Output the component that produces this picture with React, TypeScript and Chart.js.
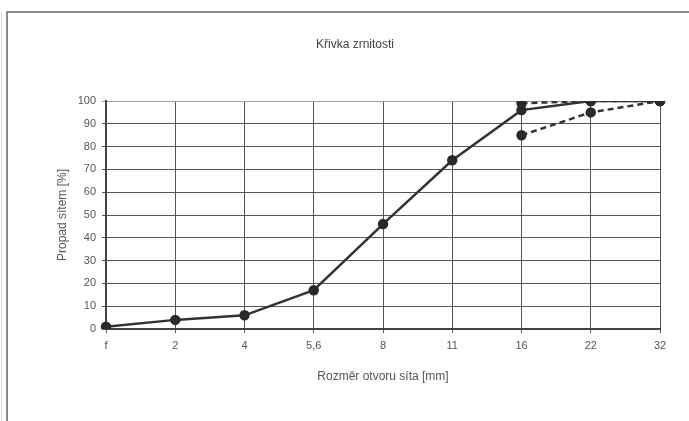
import React, { useEffect, useRef } from "react";
import { Chart, registerables } from "chart.js";

Chart.register(...registerables);

const categories = ["f", "2", "4", "5,6", "8", "11", "16", "22", "32"];
const mainCurve = [1, 4, 6, 17, 46, 74, 96, 100, 100];
const upperLimit = [null, null, null, null, null, null, 99, 100, 100];
const lowerLimit = [null, null, null, null, null, null, 85, 95, 100];
const yTicks = [0, 10, 20, 30, 40, 50, 60, 70, 80, 90, 100];

const FONT = "'Liberation Sans', Arial, sans-serif";

export default function App() {
  const ref = useRef<HTMLCanvasElement | null>(null);

  useEffect(() => {
    document.body.style.margin = "0";
    const ctx = ref.current!.getContext("2d")!;
    const pointStyle = {
      pointRadius: 4,
      pointHoverRadius: 4,
      pointBackgroundColor: "#2a2a2a",
      pointBorderColor: "#2a2a2a",
      borderColor: "#333",
      borderWidth: 2.5,
      tension: 0,
      fill: false,
    };
    const chart = new Chart(ctx, {
      type: "line",
      data: {
        labels: categories,
        datasets: [
          { label: "upper", data: upperLimit, borderDash: [6, 4], ...pointStyle },
          { label: "lower", data: lowerLimit, borderDash: [6, 4], ...pointStyle },
          { label: "curve", data: mainCurve, ...pointStyle },
        ],
      },
      options: {
        animation: false,
        responsive: false,
        devicePixelRatio: 1,
        layout: { padding: { left: 50, right: 29, top: 0, bottom: 32 } },
        plugins: {
          legend: { display: false },
          tooltip: { enabled: false },
          title: {
            display: true,
            text: "Křivka zrnitosti",
            color: "#444",
            font: { family: FONT, size: 12, weight: "normal" },
            padding: { top: 37.8, bottom: 48.8 },
          },
        },
        scales: {
          x: {
            type: "category",
            offset: false,
            afterFit: (s: any) => {
              s.height = 60;
            },
            grid: {
              color: "#555",
              lineWidth: 1,
              tickLength: 4,
            },
            border: { color: "#444", width: 2 },
            ticks: {
              color: "#555",
              padding: 6,
              maxRotation: 0,
              autoSkip: false,
              font: { family: FONT, size: 11 },
            },
            title: {
              display: true,
              text: "Rozměr otvoru síta [mm]",
              color: "#555",
              font: { family: FONT, size: 12 },
              padding: { top: 0, bottom: 4.8 },
            },
          },
          y: {
            min: 0,
            max: 100,
            afterFit: (s: any) => {
              s.width = 56;
            },
            afterBuildTicks: (s: any) => {
              s.ticks = yTicks.map((v) => ({ value: v }));
            },
            grid: {
              color: (c: any) => (c.tick && c.tick.value === 100 ? "#a99c8e" : "#555"),
              lineWidth: 1,
              tickLength: 4,
            },
            border: { color: "#444", width: 2 },
            ticks: {
              color: "#555",
              padding: 6,
              stepSize: 10,
              font: { family: FONT, size: 11 },
            },
            title: {
              display: true,
              text: "Propad sítem [%]",
              color: "#555",
              font: { family: FONT, size: 12 },
              padding: { top: 5, bottom: 0 },
            },
          },
        },
      },
    });
    return () => chart.destroy();
  }, []);

  return (
    <div
      style={{
        position: "fixed",
        left: 0,
        top: 0,
        width: 689,
        height: 421,
        overflow: "hidden",
        background: "#fff",
      }}
    >
      <canvas ref={ref} width={689} height={421} style={{ position: "absolute", left: 0, top: 0 }} />
      <div
        style={{
          position: "absolute",
          left: 6,
          top: 11,
          width: 700,
          height: 430,
          borderLeft: "2px solid #8c8c8c",
          borderTop: "2px solid #8c8c8c",
          pointerEvents: "none",
        }}
      />
      <div
        style={{
          position: "absolute",
          left: 1,
          top: 12,
          width: 1,
          height: 420,
          background: "#d8d8d8",
          pointerEvents: "none",
        }}
      />
    </div>
  );
}
